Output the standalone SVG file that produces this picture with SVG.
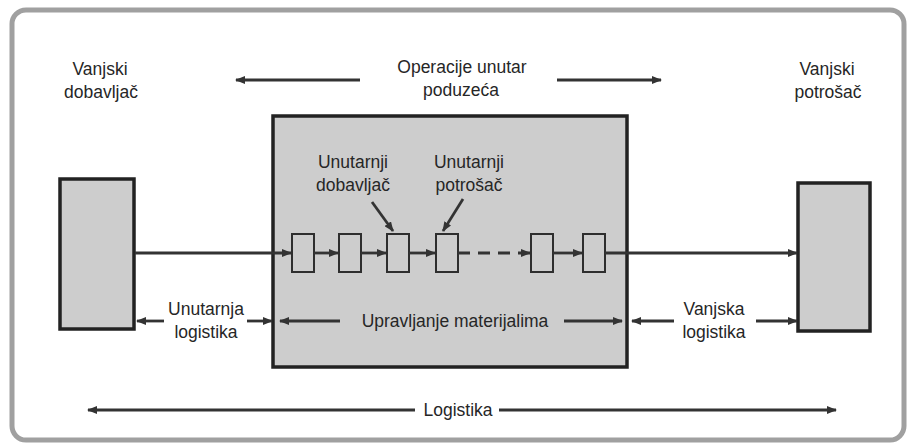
<svg xmlns="http://www.w3.org/2000/svg" width="908" height="446" viewBox="0 0 908 446">
<defs>
<marker id="ah" markerWidth="10" markerHeight="8" refX="9" refY="4" orient="auto-start-reverse" markerUnits="userSpaceOnUse">
<path d="M0,0 L10,4 L0,8 z" fill="#333"/>
</marker>
</defs>
<style>
text{font-family:"Liberation Sans",Arial,sans-serif;font-size:17.5px;fill:#262626;text-anchor:middle}
.node{fill:#cdcdcd;stroke:#222;stroke-width:3.5}
.sb{fill:#cdcdcd;stroke:#2e2e2e;stroke-width:2}
.ar{stroke:#333;stroke-width:2.8;fill:none;marker-end:url(#ah)}
</style>
<rect x="12" y="10" width="892" height="430" rx="14" fill="#fff" stroke="#a0a0a0" stroke-width="5"/>

<g id="supplier">
<rect class="node" x="60" y="179" width="74" height="150"/>
<text x="100" y="75">Vanjski</text>
<text x="101" y="98">dobavljač</text>
</g>
<g id="consumer">
<rect class="node" x="798" y="183" width="72" height="148"/>
<text x="827" y="75">Vanjski</text>
<text x="828" y="98">potrošač</text>
</g>
<g id="enterprise">
<rect class="node" x="273" y="116" width="354" height="251"/>
</g>
<g id="ops-label">
<text x="462" y="73">Operacije unutar</text>
<text x="461" y="96">poduzeća</text>
</g>
<g id="int-supplier-label">
<text x="353" y="168">Unutarnji</text>
<text x="353" y="191">dobavljač</text>
</g>
<g id="int-consumer-label">
<text x="469" y="168">Unutarnji</text>
<text x="469" y="191">potrošač</text>
</g>
<g id="box1"><rect class="sb" x="292" y="234" width="22" height="38"/></g>
<g id="box2"><rect class="sb" x="339" y="234" width="22" height="38"/></g>
<g id="box3"><rect class="sb" x="387" y="234" width="22" height="38"/></g>
<g id="box4"><rect class="sb" x="436" y="234" width="22" height="38"/></g>
<g id="box5"><rect class="sb" x="531" y="234" width="22" height="38"/></g>
<g id="box6"><rect class="sb" x="583" y="234" width="22" height="38"/></g>
<g id="int-log-label">
<text x="206" y="315">Unutarnja</text>
<text x="206" y="338">logistika</text>
</g>
<g id="mat-label">
<text x="455" y="327">Upravljanje materijalima</text>
</g>
<g id="ext-log-label">
<text x="714" y="315">Vanjska</text>
<text x="714" y="338">logistika</text>
</g>
<g id="log-label">
<text x="458" y="416">Logistika</text>
</g>

<g id="connectors">
<line class="ar" x1="360" y1="80" x2="236" y2="80"/>
<line class="ar" x1="557" y1="80" x2="661" y2="80"/>
<line class="ar" x1="135" y1="253" x2="291" y2="253"/>
<line class="ar" x1="314" y1="253" x2="338" y2="253"/>
<line class="ar" x1="361" y1="253" x2="386" y2="253"/>
<line class="ar" x1="409" y1="253" x2="435" y2="253"/>
<line class="ar" x1="458" y1="253" x2="530" y2="253" stroke-dasharray="12,8"/>
<line class="ar" x1="553" y1="253" x2="582" y2="253"/>
<line class="ar" x1="605" y1="253" x2="797" y2="253"/>
<line class="ar" x1="372" y1="202" x2="393" y2="231"/>
<line class="ar" x1="463" y1="199" x2="443" y2="231"/>
<line class="ar" x1="164" y1="321" x2="137" y2="321"/>
<line class="ar" x1="247" y1="321" x2="272" y2="321"/>
<line class="ar" x1="340" y1="321" x2="280" y2="321"/>
<line class="ar" x1="564" y1="321" x2="622" y2="321"/>
<line class="ar" x1="674" y1="321" x2="632" y2="321"/>
<line class="ar" x1="756" y1="321" x2="797" y2="321"/>
<line class="ar" x1="415" y1="410" x2="88" y2="410"/>
<line class="ar" x1="499" y1="410" x2="836" y2="410"/>
</g>
</svg>
